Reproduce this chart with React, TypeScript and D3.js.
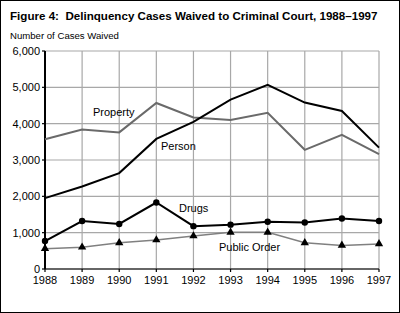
import React from "react";
import * as d3 from "d3";

// Waived delinquency cases by offense, 1988-1997
const years = [1988, 1989, 1990, 1991, 1992, 1993, 1994, 1995, 1996, 1997];
const person = [1950, 2270, 2640, 3580, 4050, 4660, 5070, 4580, 4350, 3340];
const property = [3570, 3840, 3760, 4570, 4170, 4100, 4300, 3280, 3690, 3160];
const drugs = [770, 1320, 1240, 1830, 1180, 1220, 1300, 1280, 1390, 1320];
const publicOrder = [560, 600, 720, 800, 910, 1010, 1010, 720, 650, 690];
const yTicks = [0, 1000, 2000, 3000, 4000, 5000, 6000];

const FONT = "'Liberation Sans', Arial, Helvetica, sans-serif";

const width = 400;
const height = 313;
const margin = { top: 51, right: 21, bottom: 44, left: 45 };

const App: React.FC = () => {
  const x = d3
    .scaleLinear()
    .domain([1988, 1997])
    .range([margin.left, width - margin.right]);
  const y = d3
    .scaleLinear()
    .domain([0, 6000])
    .range([height - margin.bottom, margin.top]);

  const line = d3
    .line<number>()
    .x((_, i) => x(years[i]))
    .y((d) => y(d));

  const triangle = d3.symbol().type(d3.symbolTriangle).size(30)();

  const x0 = x(1988);
  const x1 = x(1997);
  const y0 = y(0);
  const y1 = y(6000);

  return (
    <div style={{ position: "fixed", left: 0, top: 0 }}>
      <svg width={width} height={height} style={{ display: "block" }} fontFamily={FONT}>
        <rect x={0} y={0} width={width} height={height} fill="#fff" />
        <rect x={0.5} y={0.5} width={width - 1} height={height - 1} fill="none" stroke="#000" />

        <text x={10} y={20} fontSize={11.6} fontWeight="bold" fill="#000" style={{ whiteSpace: "pre" }}>
          {"Figure 4:  Delinquency Cases Waived to Criminal Court, 1988–1997"}
        </text>
        <text x={10} y={39} fontSize={9.6} fill="#000">
          Number of Cases Waived
        </text>

        {/* grid */}
        {yTicks.filter((t) => t > 0).map((t) => (
          <line key={"h" + t} x1={x0} x2={x1} y1={y(t)} y2={y(t)} stroke="#a8a8a8" strokeWidth={1.2} />
        ))}
        {years.slice(1).map((yr) => (
          <line key={"v" + yr} x1={x(yr)} x2={x(yr)} y1={y1} y2={y0} stroke="#a8a8a8" strokeWidth={1.2} />
        ))}

        {/* axes */}
        <line x1={x0} x2={x1} y1={y0} y2={y0} stroke="#333" strokeWidth={1.6} />
        {years.map((yr) => (
          <line key={"xt" + yr} x1={x(yr)} x2={x(yr)} y1={y0} y2={y0 + 3} stroke="#000" strokeWidth={1.2} />
        ))}
        <line x1={x0} x2={x0} y1={y1} y2={y0} stroke="#000" strokeWidth={2} />
        {yTicks.map((t) => (
          <line key={"yt" + t} x1={x0 - 3} x2={x0} y1={y(t)} y2={y(t)} stroke="#000" strokeWidth={1.2} />
        ))}
        {yTicks.map((t) => (
          <text key={"yl" + t} x={x0 - 5} y={y(t) + 4} fontSize={11} textAnchor="end" fill="#000">
            {d3.format(",")(t)}
          </text>
        ))}
        {years.map((yr) => (
          <text key={"xl" + yr} x={x(yr)} y={y0 + 15} fontSize={11} textAnchor="middle" fill="#000">
            {yr}
          </text>
        ))}

        {/* series */}
        <path d={line(property) ?? ""} fill="none" stroke="#6a6a6a" strokeWidth={2} />
        <path d={line(person) ?? ""} fill="none" stroke="#000" strokeWidth={2} />
        <path d={line(publicOrder) ?? ""} fill="none" stroke="#808080" strokeWidth={1.5} />
        <path d={line(drugs) ?? ""} fill="none" stroke="#000" strokeWidth={2} />
        {drugs.map((d, i) => (
          <circle key={"dc" + i} cx={x(years[i])} cy={y(d)} r={3.2} fill="#000" />
        ))}
        {publicOrder.map((d, i) => (
          <path key={"pt" + i} d={triangle ?? ""} transform={`translate(${x(years[i])},${y(d)})`} fill="#000" />
        ))}

        {/* series labels */}
        <text x={93} y={116} fontSize={11} fill="#000">Property</text>
        <text x={161} y={150} fontSize={11} fill="#000">Person</text>
        <text x={179} y={212} fontSize={11} fill="#000">Drugs</text>
        <text x={219} y={251} fontSize={11} fill="#000">Public Order</text>
      </svg>
    </div>
  );
};

export default App;
